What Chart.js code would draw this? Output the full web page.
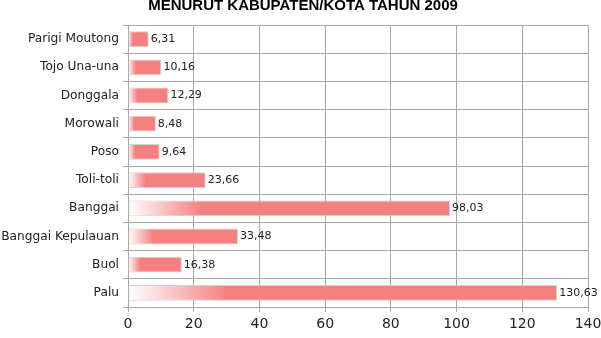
<!DOCTYPE html>
<html>
<head>
<meta charset="utf-8">
<script src="https://cdn.jsdelivr.net/npm/chart.js@4"></script>
<style>
  html, body { margin: 0; padding: 0; background: #fff; }
  #wrap { width: 601px; height: 338px; }
</style>
</head>
<body>
<div id="wrap"><canvas id="BarCanvas" width="601" height="338"></canvas></div>
<script>
const titleText = "MENURUT KABUPATEN/KOTA TAHUN 2009";
const regions = ["Parigi Moutong", "Tojo Una-una", "Donggala", "Morowali", "Poso",
                 "Toli-toli", "Banggai", "Banggai Kepulauan", "Buol", "Palu"];
const values = [6.31, 10.16, 12.29, 8.48, 9.64, 23.66, 98.03, 33.48, 16.38, 130.63];
const xTicks = [0, 20, 40, 60, 80, 100, 120, 140];

const barPink = "rgb(245,128,128)";

// white -> pink fade over the first part of each bar
function barFill(context) {
    const chart = context.chart;
    const area = chart.chartArea;
    if (!area || !chart.scales.x) return barPink;
    const x0 = chart.scales.x.getPixelForValue(0);
    const x1 = chart.scales.x.getPixelForValue(context.raw);
    const g = chart.ctx.createLinearGradient(x0, 0, x1, 0);
    g.addColorStop(0, "rgba(255,255,255,1)");
    g.addColorStop(0.1, "rgba(250,200,200,1)");
    g.addColorStop(0.23, barPink);
    g.addColorStop(1, barPink);
    return g;
}

const valueLabels = {
    id: "valueLabels",
    afterDatasetsDraw(chart) {
        const ctx = chart.ctx;
        const meta = chart.getDatasetMeta(0);
        ctx.save();
        ctx.font = "11px 'DejaVu Sans'";
        ctx.fillStyle = "#222";
        ctx.textBaseline = "middle";
        ctx.textAlign = "left";
        meta.data.forEach((bar, i) => {
            const txt = values[i].toFixed(2).replace(".", ",");
            ctx.fillText(txt, bar.x + 2, bar.y);
        });
        ctx.restore();
    }
};

// title sits partly above the top edge, as in the source image
const titleDraw = {
    id: "titleDraw",
    afterDraw(chart) {
        const ctx = chart.ctx;
        ctx.save();
        ctx.font = "bold 15px 'Liberation Sans'";
        ctx.fillStyle = "#000";
        ctx.textAlign = "center";
        ctx.textBaseline = "alphabetic";
        ctx.fillText(titleText, 303, 10);
        ctx.restore();
    }
};

new Chart(document.getElementById("BarCanvas").getContext("2d"), {
    type: "bar",
    data: {
        labels: regions,
        datasets: [{
            data: values,
            backgroundColor: barFill,
            borderColor: "rgba(205,205,205,0.9)",
            borderWidth: 1,
            borderSkipped: false,
            barPercentage: 0.56,
            categoryPercentage: 1
        }]
    },
    options: {
        indexAxis: "y",
        animation: false,
        responsive: false,
        layout: { padding: { top: 25, right: 13, left: 0, bottom: 0 } },
        plugins: {
            legend: { display: false },
            tooltip: { enabled: false }
        },
        scales: {
            x: {
                min: 0,
                max: 140,
                afterBuildTicks: (scale) => { scale.ticks = xTicks.map(v => ({ value: v })); },
                grid: { color: "#a8a8a8", tickLength: 5 },
                border: { color: "#a8a8a8" },
                ticks: { color: "#222", font: { family: "'DejaVu Sans'", size: 14 }, padding: 4 },
                afterFit: (scale) => {
                    scale.height = 31;
                    scale.paddingRight = 0;
                    scale.paddingLeft = 0;
                }
            },
            y: {
                grid: { color: "#a8a8a8", tickLength: 5, offset: true },
                border: { color: "#a8a8a8" },
                ticks: { color: "#222", font: { family: "'DejaVu Sans'", size: 12.2 }, padding: 4 },
                afterFit: (scale) => { scale.width = 128; }
            }
        }
    },
    plugins: [valueLabels, titleDraw]
});
</script>
</body>
</html>
